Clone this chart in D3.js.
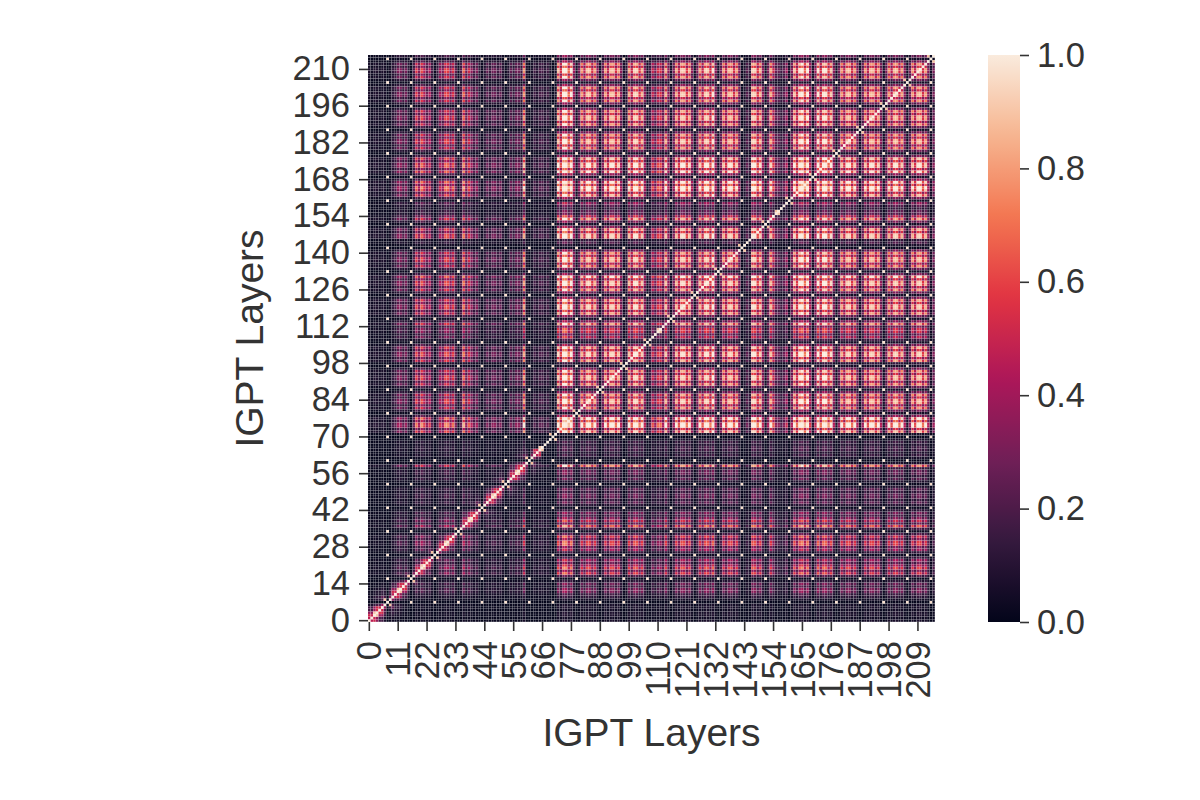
<!DOCTYPE html>
<html>
<head>
<meta charset="utf-8">
<script src="https://cdn.jsdelivr.net/npm/d3@7"></script>
<style>
  html, body { margin: 0; padding: 0; background: #ffffff; }
  svg { display: block; }
  text { font-family: "Liberation Sans", Arial, sans-serif; fill: #333333; }
</style>
</head>
<body>
<script>
// ---------------- data ----------------
const layerCount = 216;
const layers = d3.range(layerCount);
const xTickLabels = d3.range(0, 210, 11);   // 0, 11, ..., 209
const yTickLabels = d3.range(0, 211, 14);   // 0, 14, ..., 210
const colorbarTicks = [0.0, 0.2, 0.4, 0.6, 0.8, 1.0];
const axisTitle = "IGPT Layers";

// per-layer similarity strength, read as layer ranges [first, last, level]
const layerBands = [
  [0, 5, 0.14], [6, 9, 0.24], [10, 16, 0.42], [17, 20, 0.68], [21, 27, 0.55],
  [28, 35, 0.66], [36, 36, 0.78], [37, 38, 0.6], [39, 44, 0.45], [45, 58, 0.38],
  [59, 59, 0.86], [60, 71, 0.28], [72, 73, 0.97], [74, 77, 1.05], [78, 79, 0.97],
  [80, 97, 0.89], [98, 98, 0.5], [99, 106, 0.92], [107, 112, 0.62], [113, 130, 0.91],
  [131, 131, 1.02], [132, 141, 0.88], [142, 145, 0.35], [146, 154, 0.92],
  [155, 158, 0.37], [159, 164, 0.96], [165, 171, 1.04], [172, 176, 0.96],
  [177, 215, 0.88]
];
// strength of each of the 9 sub-layers inside a transformer block
const sublayerWeight = [1.0, 0.7, 1.08, 1.08, 0.76, 1.02, 0.55, 0.15, 0.5];
// similarity of paired sub-layers in the same block
const pairedSublayers = [[2, 3, 0.9], [6, 8, 0.88]];
const repeatedSublayer = 7;        // sub-layer type that is near-identical across blocks
const repeatedSimilarity = 0.97;
const earlyBlockEnd = 66;          // layers where neighbours stay similar
const neighbourPeak = 0.66;
const neighbourDecay = 3.0;
const contrast = 1.35;

// rocket colormap stops
const rocketStops = ["#03051a", "#35193e", "#701f57", "#ad1759", "#e13342", "#f37651", "#f6b48f", "#faebdd"];

// ---------------- derived values ----------------
const layerLevel = layers.map(i => {
  const b = layerBands.find(s => i >= s[0] && i <= s[1]);
  return b[2] * sublayerWeight[i % 9];
});
function similarity(i, j) {
  if (i === j) return 1;
  const ti = i % 9, tj = j % 9;
  if (ti === repeatedSublayer && tj === repeatedSublayer) return repeatedSimilarity;
  let v = Math.pow(layerLevel[i] * layerLevel[j], contrast);
  if (Math.floor(i / 9) === Math.floor(j / 9)) {
    pairedSublayers.forEach(([a, b, s]) => {
      if ((ti === a && tj === b) || (ti === b && tj === a)) v = Math.max(v, s);
    });
  }
  if (ti !== repeatedSublayer && tj !== repeatedSublayer && i < earlyBlockEnd && j < earlyBlockEnd) {
    const d = Math.abs(i - j);
    const w = sublayerWeight[ti] * sublayerWeight[tj];
    v = Math.max(v, neighbourPeak * w * Math.exp(-(d - 1) / neighbourDecay));
  }
  return Math.max(0, Math.min(1, v));
}
const cells = [];
layers.forEach(i => layers.forEach(j => cells.push({ col: j, row: i, value: similarity(i, j) })));

// ---------------- drawing ----------------
const W = 1200, H = 800;
const plot = { left: 368, right: 935, top: 55, bottom: 622 };
const cbar = { left: 988, right: 1020, top: 55, bottom: 622 };

const svg = d3.select("body").append("svg").attr("width", W).attr("height", H);
svg.append("rect").attr("width", W).attr("height", H).attr("fill", "#ffffff");

const x = d3.scaleBand().domain(layers).range([plot.left, plot.right]).padding(0);
const y = d3.scaleBand().domain(layers).range([plot.bottom, plot.top]).padding(0);
const color = d3.scaleLinear()
  .domain(d3.range(rocketStops.length).map(k => k / (rocketStops.length - 1)))
  .range(rocketStops)
  .interpolate(d3.interpolateRgb)
  .clamp(true);

const bw = x.bandwidth();
svg.append("g").selectAll("rect")
  .data(cells)
  .join("rect")
  .attr("x", d => x(d.col))
  .attr("y", d => y(d.row))
  .attr("width", bw - 0.18)
  .attr("height", bw - 0.18)
  .attr("fill", d => color(d.value));

const tickFont = 34.5;
function styleAxis(g) {
  g.select(".domain").remove();
  g.selectAll(".tick line").attr("stroke", "#333333").attr("stroke-width", 1.6);
  g.selectAll(".tick text").attr("font-size", tickFont).attr("fill", "#333333")
    .style("font-family", '"Liberation Sans", Arial, sans-serif');
}

// y axis
svg.append("g")
  .attr("transform", `translate(${plot.left},0)`)
  .call(d3.axisLeft(y).tickValues(yTickLabels).tickSize(9).tickPadding(9))
  .call(styleAxis);

// x axis
const gx = svg.append("g")
  .attr("transform", `translate(0,${plot.bottom})`)
  .call(d3.axisBottom(x).tickValues(xTickLabels).tickSize(9).tickPadding(6))
  .call(styleAxis);
gx.selectAll(".tick text")
  .attr("transform", "rotate(-90)")
  .attr("text-anchor", "end")
  .attr("x", -19)
  .attr("y", 0)
  .attr("dy", "0.35em");

// axis titles
svg.append("text")
  .attr("x", (plot.left + plot.right) / 2)
  .attr("y", 746)
  .attr("text-anchor", "middle")
  .attr("font-size", 39)
  .text(axisTitle);
svg.append("text")
  .attr("transform", `translate(263,${(plot.top + plot.bottom) / 2}) rotate(-90)`)
  .attr("text-anchor", "middle")
  .attr("font-size", 39)
  .text(axisTitle);

// colorbar
const defs = svg.append("defs");
const grad = defs.append("linearGradient").attr("id", "cbgrad")
  .attr("x1", 0).attr("y1", 1).attr("x2", 0).attr("y2", 0);
grad.selectAll("stop")
  .data(d3.range(0, 1.0001, 0.02))
  .join("stop")
  .attr("offset", d => d)
  .attr("stop-color", d => color(d));
svg.append("rect")
  .attr("x", cbar.left).attr("y", cbar.top)
  .attr("width", cbar.right - cbar.left).attr("height", cbar.bottom - cbar.top)
  .attr("fill", "url(#cbgrad)");
const cy = d3.scaleLinear().domain([0, 1]).range([cbar.bottom, cbar.top]);
svg.append("g")
  .attr("transform", `translate(${cbar.right},0)`)
  .call(d3.axisRight(cy).tickValues(colorbarTicks).tickFormat(d3.format(".1f")).tickSize(9).tickPadding(8))
  .call(styleAxis);
</script>
</body>
</html>
